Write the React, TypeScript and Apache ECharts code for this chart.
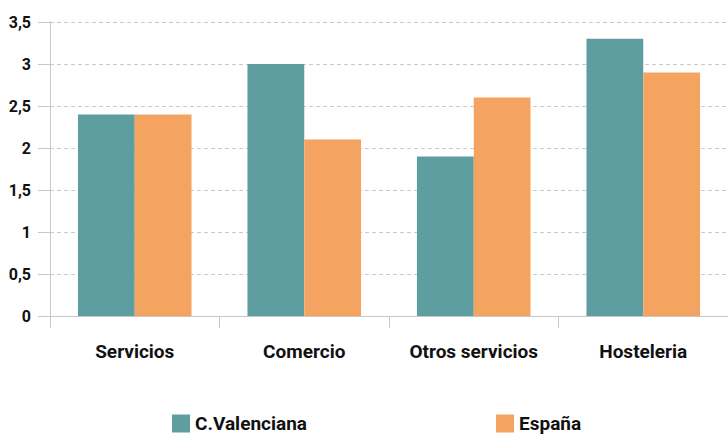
import React, { useEffect, useRef } from "react";
import * as echarts from "echarts";

const categories = ["Servicios", "Comercio", "Otros servicios", "Hosteleria"];
const cValenciana = [2.4, 3.0, 1.9, 3.3];
const espana = [2.4, 2.1, 2.6, 2.9];
const seriesNames = ["C.Valenciana", "España"];

const FONT = "Roboto, 'DejaVu Sans', sans-serif";

export default function App() {
  const ref = useRef<HTMLDivElement>(null);
  useEffect(() => {
    if (!ref.current) return;
    const chart = echarts.init(ref.current, null, { renderer: "svg" });
    const legendText = { fontFamily: FONT, fontSize: 19, fontWeight: "bold", color: "#111" };
    chart.setOption({
      animation: false,
      textStyle: { fontFamily: FONT },
      grid: { left: 50, right: 0, top: 22, bottom: 118 },
      legend: [
        {
          data: [seriesNames[0]],
          left: 167,
          top: 409,
          itemWidth: 18,
          itemHeight: 18,
          itemGap: 0,
          icon: "rect",
          textStyle: legendText,
        },
        {
          data: [seriesNames[1]],
          left: 491,
          top: 409,
          itemWidth: 18,
          itemHeight: 18,
          itemGap: 0,
          icon: "rect",
          textStyle: legendText,
        },
      ],
      xAxis: {
        type: "category",
        data: categories,
        axisLine: { show: true, lineStyle: { color: "#c8c8c8", width: 1 } },
        axisTick: { show: true, length: 12, lineStyle: { color: "#c8c8c8" } },
        axisLabel: {
          interval: 0,
          margin: 26,
          fontFamily: FONT,
          fontSize: 19,
          fontWeight: "bold",
          color: "#111",
        },
        splitLine: { show: false },
      },
      yAxis: {
        type: "value",
        min: 0,
        max: 3.5,
        interval: 0.5,
        axisLine: { show: true, lineStyle: { color: "#c8c8c8", width: 1 } },
        axisTick: { show: true, length: 12, lineStyle: { color: "#c8c8c8" } },
        axisLabel: {
          margin: 19,
          fontFamily: FONT,
          fontSize: 16,
          fontWeight: "bold",
          color: "#111",
          formatter: (v: number) => String(v).replace(".", ","),
        },
        splitLine: { show: true, lineStyle: { color: "#c8c8c8", type: [4, 3] } },
      },
      series: [
        {
          name: seriesNames[0],
          type: "bar",
          data: cValenciana,
          itemStyle: { color: "#5f9ea0" },
          barGap: "0%",
          barCategoryGap: "33%",
        },
        {
          name: seriesNames[1],
          type: "bar",
          data: espana,
          itemStyle: { color: "#f4a460" },
        },
      ],
    });
    return () => chart.dispose();
  }, []);
  return <div ref={ref} style={{ width: 728, height: 434, position: "absolute", left: 0, top: 0 }} />;
}
